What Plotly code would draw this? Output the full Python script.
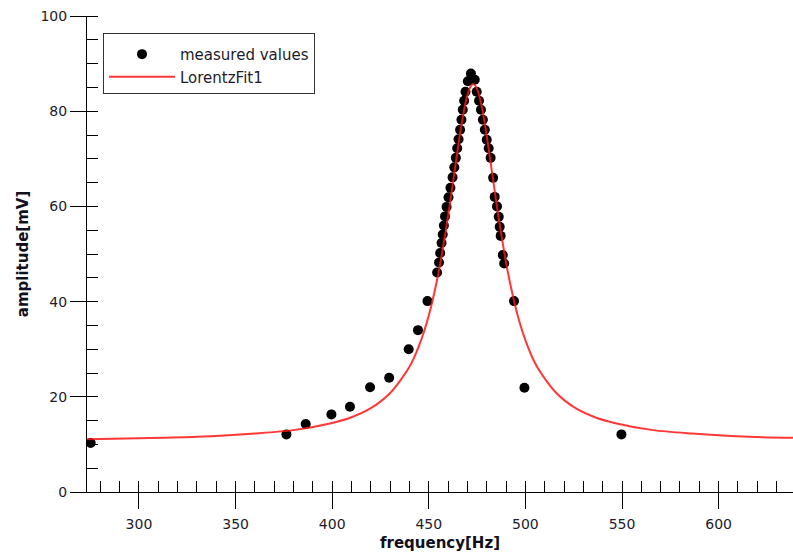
import plotly.graph_objects as go

measured_freq = [275.0, 376.3, 386.3, 399.6, 409.2, 419.6, 429.5, 439.6, 444.4, 449.3,
                 454.3, 455.3, 455.9, 456.6, 457.2, 457.8, 458.4, 459.2, 460.2, 461.2,
                 462.3, 463.2, 464.0, 464.7, 465.4, 466.2, 466.9, 467.6, 468.3, 469.0,
                 470.2, 471.8,
                 473.8, 474.8, 476.0, 477.0, 478.0, 479.0, 480.0, 481.0, 482.0, 483.3,
                 484.1, 485.3, 486.2, 486.7, 487.2, 488.3, 489.0, 494.1, 499.5, 549.7]
measured_amp = [10.3, 12.1, 14.3, 16.3, 17.9, 22.0, 24.0, 30.0, 34.0, 40.1,
                46.1, 48.2, 50.2, 52.3, 54.1, 56.0, 57.9, 59.9, 61.9, 63.9,
                66.1, 68.2, 70.2, 72.2, 74.1, 76.1, 78.2, 80.3, 82.2, 84.1,
                86.3, 87.9,
                86.6, 84.1, 82.2, 80.3, 78.2, 76.1, 74.0, 72.2, 70.2, 66.0,
                62.0, 60.0, 57.8, 55.7, 53.8, 49.8, 48.0, 40.1, 21.9, 12.1]

# Lorentz fit curve
fit_freq = [273, 300, 330, 360, 380, 400, 410, 420, 430, 440, 445, 450, 455, 460,
            463, 466, 468, 470, 471.5, 473, 474.5, 476, 478, 480, 483, 486, 491,
            496, 501, 506, 516, 526, 536, 546, 566, 586, 616, 638.5]
fit_amp = [11.1, 11.3, 11.6, 12.3, 13.0, 14.5, 15.7, 17.6, 20.8, 26.3, 30.8, 37.1, 46.0, 58.0,
           66.4, 74.8, 79.7, 83.4, 85.1, 85.7, 85.1, 83.4, 79.7, 74.8, 66.4, 58.0, 46.0,
           37.1, 30.8, 26.3, 20.8, 17.6, 15.7, 14.5, 13.0, 12.3, 11.6, 11.4]

x_range = [273.1, 638.5]
y_range = [0, 100]

FONT = "DejaVu Sans"

fig = go.Figure()
fig.add_trace(go.Scatter(
    x=measured_freq, y=measured_amp, mode="markers", name="measured values",
    legendgroup="a",
    marker=dict(color="black", size=10, line=dict(width=0)),
))
fig.add_trace(go.Scatter(
    x=fit_freq, y=fit_amp, mode="lines", name="LorentzFit1", legendgroup="b",
    line=dict(color="rgba(255,20,20,0.85)", width=2, shape="spline", smoothing=0.8),
))

axis_common = dict(
    showgrid=False, zeroline=False, showline=True, linecolor="black", linewidth=1,
    ticks="outside", tickcolor="black", tickwidth=1, ticklen=16,
    tickfont=dict(family=FONT, size=14, color="#1c1c2c"),
    ticklabeloverflow="allow",
)

fig.update_layout(
    width=793, height=560,
    margin=dict(l=87, r=0, t=16, b=68),
    paper_bgcolor="white", plot_bgcolor="white",
    font=dict(family=FONT, size=14, color="black"),
    xaxis=dict(
        **axis_common, range=x_range, tickmode="linear", tick0=300, dtick=50,
        ticklabelstandoff=3,
        minor=dict(dtick=10, tick0=300, ticks="inside", ticklen=11, tickcolor="black", tickwidth=1, showgrid=False),
        title=dict(text="<b>frequency[Hz]</b>", font=dict(family=FONT, size=15, color="#101020"), standoff=6),
    ),
    yaxis=dict(
        **axis_common, range=y_range, tickmode="linear", tick0=0, dtick=20,
        ticklabelstandoff=0,
        minor=dict(dtick=5, tick0=0, ticks="inside", ticklen=11, tickcolor="black", tickwidth=1, showgrid=False),
        title=dict(text="<b>amplitude[mV]</b>", font=dict(family=FONT, size=15, color="#101020"), standoff=8),
    ),
    xaxis2=dict(overlaying="x", anchor="y", side="bottom", range=x_range, tickmode="linear",
                tick0=300, dtick=50, ticks="inside", ticklen=18, tickcolor="black", tickwidth=1,
                showticklabels=False, showline=False, showgrid=False, zeroline=False),
    yaxis2=dict(overlaying="y", anchor="x", side="left", range=y_range, tickmode="linear",
                tick0=0, dtick=20, ticks="inside", ticklen=17, tickcolor="black", tickwidth=1,
                showticklabels=False, showline=False, showgrid=False, zeroline=False),
    legend=dict(
        x=(103 - 87) / 706, y=(492 - 33) / 476, xanchor="left", yanchor="top",
        bgcolor="white", bordercolor="#333333", borderwidth=1,
        font=dict(family=FONT, size=15, color="#1c1c2c"),
        title=dict(text="\u00a0", font=dict(size=3)),
        itemwidth=66, tracegroupgap=0, entrywidth=245, entrywidthmode="pixels",
    ),
    showlegend=True,
)

# remove the browser's default body margin so the figure fills the 793x560 window
fig.write_html("out.html",
               config={"displayModeBar": False},
               post_script="document.body.style.margin='0';document.body.style.overflow='hidden';")
